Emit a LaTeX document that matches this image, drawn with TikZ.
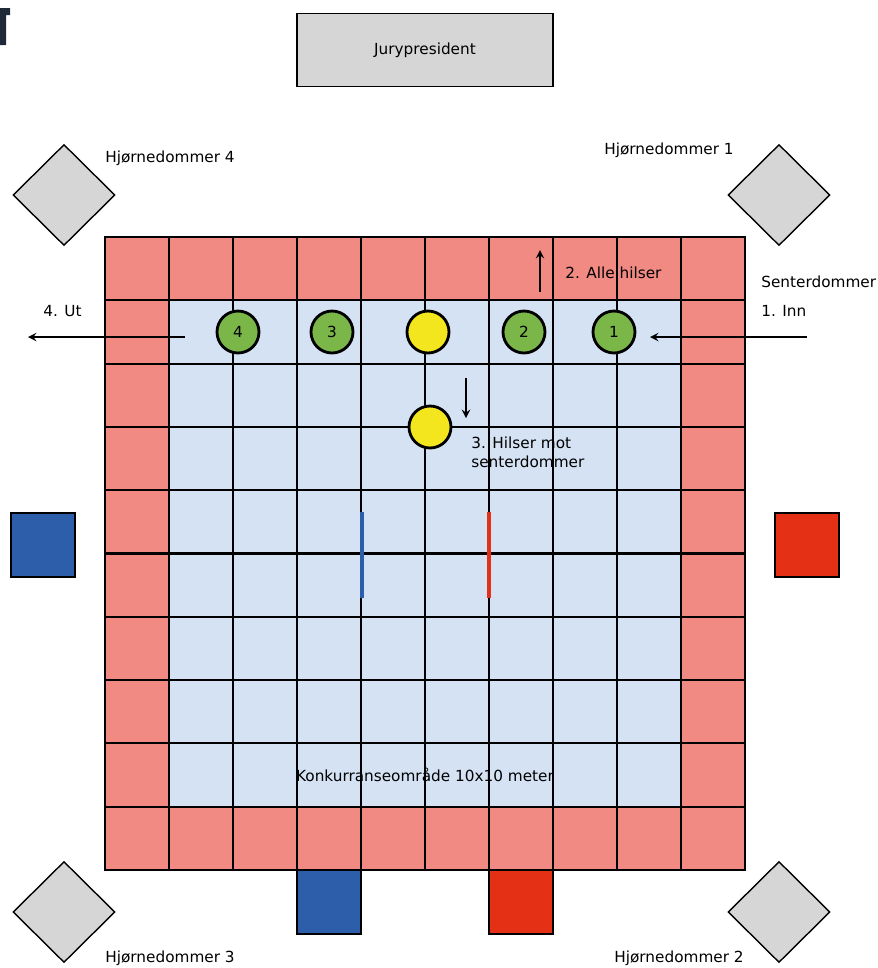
\documentclass[tikz,border=0pt]{standalone}
\usepackage{fontspec}
\setmainfont{DejaVu Sans}
\usetikzlibrary{shapes.geometric}
\definecolor{matpink}{RGB}{240,138,130}
\definecolor{matblue}{RGB}{212,226,244}
\definecolor{jurygray}{RGB}{214,214,214}
\definecolor{pgreen}{RGB}{122,182,72}
\definecolor{pyellow}{RGB}{244,230,30}
\definecolor{cblue}{RGB}{44,94,170}
\definecolor{cred}{RGB}{228,48,20}
\definecolor{titledark}{RGB}{31,42,56}
\tikzset{
  judge/.style={draw, line width=0.8pt, fill=jurygray, diamond, minimum width=2.04cm, minimum height=2.02cm, inner sep=0pt},
  player/.style={circle, draw, line width=1.6pt, fill=pgreen, minimum size=0.84cm, inner sep=0pt},
  centre/.style={player, fill=pyellow},
  corner/.style={draw, line width=0.8pt, minimum size=1.28cm, inner sep=0pt},
  lbl/.style={anchor=west, inner sep=0pt},
}
\begin{document}
\begin{tikzpicture}[x=0.02cm, y=-0.02cm, font=\fontsize{8.7}{10.5}\selectfont, >=stealth, line cap=rect]
				\useasboundingbox (0,0) rectangle (877,968);
				% title fragment
				\fill[titledark] (0,8) -- (10,8) -- (10,15) -- (6,15) -- (6,45) -- (0,45) -- cycle;
				% jury
				\node[draw, line width=0.8pt, fill=jurygray, minimum width=5.12cm, minimum height=1.46cm] (jury) at (425,50) {Jurypresident};
				% competition area
				\fill[matpink] (105,237) rectangle (745,870);
				\fill[matblue] (169,300) rectangle (681,807);
				\foreach \i in {0,...,10} {
					\draw[line width=1.2pt] (105+64*\i,237) -- (105+64*\i,870);
					\draw[line width=1.2pt] (105,237+63.3*\i) -- (745,237+63.3*\i);
				}
				\node (area) at (425,775) {Konkurranseområde 10x10 meter};
				% corner judges
				\node[judge] (hj4) at (64,195) {};
				\node[judge] (hj1) at (779,195) {};
				\node[judge] (hj3) at (64,912) {};
				\node[judge] (hj2) at (779,912) {};
				\node[lbl] (hj4txt) at (105,158) {Hjørnedommer 4};
				\node[lbl] (hj1txt) at (604,150) {Hjørnedommer 1};
				\node[lbl] (hj3txt) at (105,958) {Hjørnedommer 3};
				\node[lbl] (hj2txt) at (614,958) {Hjørnedommer 2};
				% coaches
				\node[corner, fill=cblue] (blueside) at (43,545) {};
				\node[corner, fill=cred] (redside) at (807,545) {};
				\node[corner, fill=cblue] (bluebottom) at (329,902) {};
				\node[corner, fill=cred] (redbottom) at (521,902) {};
				% start marks
				\draw[cblue, line width=2.8pt, line cap=butt] (362,512) -- (362,598);
				\draw[cred, line width=2.8pt, line cap=butt] (489,512) -- (489,598);
				% players
				\node[player] (p4) at (238,332) {4};
				\node[player] (p3) at (332,332) {3};
				\node[centre] (ref) at (428,332) {};
				\node[player] (p2) at (524,332) {2};
				\node[player] (p1) at (614,332) {1};
				\node[centre] (refdown) at (430,427) {};
				% steps
				\node[lbl] (senter) at (761,282) {Senterdommer};
				\node[lbl] (inn) at (761,311) {1. Inn};
				\node[lbl] (ut) at (43,311) {4. Ut};
				\node[lbl] (alle) at (565,273) {2. Alle hilser};
				\node[anchor=north west, inner sep=0pt, align=left] (hilser) at (471,437) {3. Hilser mot\\senterdommer};
				\coordinate (innstart) at (807,337);
				\coordinate (innend) at (650,337);
				\coordinate (utstart) at (185,337);
				\coordinate (utend) at (28,337);
				\coordinate (upstart) at (540,292);
				\coordinate (upend) at (540,250);
				\coordinate (downstart) at (466,378);
				\coordinate (downend) at (466,418);
				\draw[->, line width=1.1pt, line cap=butt] (innstart) -- (innend);
				\draw[->, line width=1.1pt, line cap=butt] (utstart) -- (utend);
				\draw[->, line width=1.1pt, line cap=butt] (upstart) -- (upend);
				\draw[->, line width=1.1pt, line cap=butt] (downstart) -- (downend);
			\end{tikzpicture}
\end{document}
